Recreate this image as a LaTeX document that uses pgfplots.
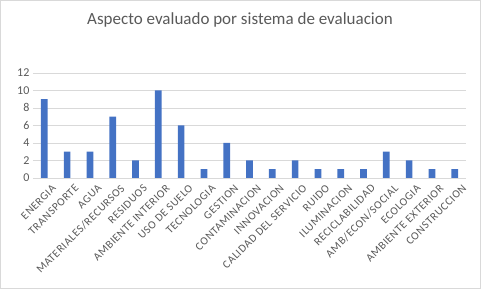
\documentclass[border=0pt]{standalone}
\usepackage{pgfplots}
\pgfplotsset{compat=1.18}
\usepackage{fontspec}
\setmainfont{Carlito}
\newfontfamily\lblfont[LetterSpace=5]{Carlito}
\definecolor{barblue}{HTML}{4472C4}
\definecolor{gridgray}{HTML}{D9D9D9}
\definecolor{txtgray}{HTML}{595959}
\begin{document}
\begin{tikzpicture}[x=1pt,y=1pt]
\draw[gridgray,line width=0.8pt] (0.5,0.5) rectangle (480.5,288.5);
\node[txtgray,font=\fontsize{17}{20}\selectfont] at (240,269) {Aspecto evaluado por sistema de evaluacion};
\begin{axis}[
  at={(33pt,111pt)}, anchor=south west,
  scale only axis, width=433pt, height=105pt,
  ymin=0, ymax=12, ytick={0,2,...,12},
  xmin=-0.5, xmax=18.5,
  xtick={0,...,18},
  xticklabels={ENERGIA,TRANSPORTE,AGUA,MATERIALES/RECURSOS,RESIDUOS,AMBIENTE INTERIOR,USO DE SUELO,TECNOLOGIA,GESTION,CONTAMINACION,INNOVACION,CALIDAD DEL SERVICIO,RUIDO,ILUMINACION,RECICLABILIDAD,AMB/ECON/SOCIAL,ECOLOGIA,AMBIENTE EXTERIOR,CONSTRUCCION},
  xticklabel style={rotate=45, anchor=north east, font=\lblfont\fontsize{11.2}{13}\selectfont, text=txtgray, inner sep=1pt, xshift=2pt, yshift=-8pt},
  yticklabel style={font=\fontsize{12}{14}\selectfont, text=txtgray},
  /pgf/number format/assume math mode=true,
  axis line style={draw=none},
  major tick length=0pt,
  ymajorgrids, grid style={gridgray, line width=0.8pt},
  tick style={draw=none},
  ybar, bar width=6.7pt,
]
\addplot[fill=barblue, draw=none] coordinates {
(0,9) (1,3) (2,3) (3,7) (4,2) (5,10) (6,6) (7,1) (8,4) (9,2) (10,1) (11,2) (12,1) (13,1) (14,1) (15,3) (16,2) (17,1) (18,1)};
\end{axis}
\end{tikzpicture}
\end{document}
